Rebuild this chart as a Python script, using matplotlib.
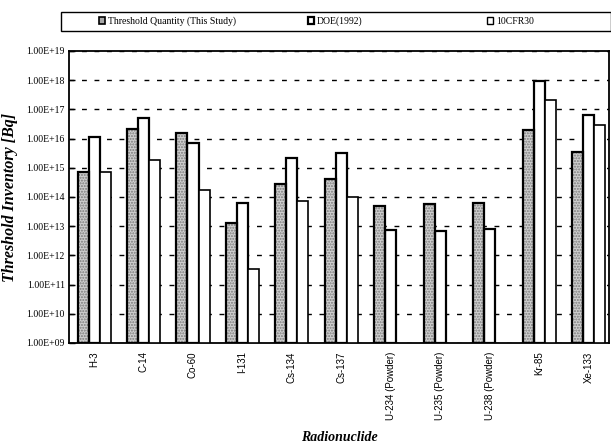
import matplotlib.pyplot as plt
import matplotlib.patches as mpatches
import numpy as np

nuclides = ["H-3", "C-14", "Co-60", "I-131", "Cs-134", "Cs-137",
            "U-234 (Powder)", "U-235 (Powder)", "U-238 (Powder)", "Kr-85", "Xe-133"]
threshold = [7e14, 2.2e16, 1.6e16, 1.3e13, 2.7e14, 4e14, 4.8e13, 5.6e13, 6e13, 1.9e16, 3.6e15]
doe = [1.1e16, 5e16, 6.8e15, 6e13, 2.1e15, 3.1e15, 7.4e12, 6.8e12, 8e12, 9.5e17, 6.6e16]
cfr = [7e14, 1.8e15, 1.8e14, 3.4e11, 7e13, 1e14, np.nan, np.nan, np.nan, 2.1e17, 3e16]
series_names = ["Threshold Quantity (This Study)", "DOE(1992)", "10CFR30"]
yticks = [10.0 ** p for p in range(9, 20)]

fig = plt.figure(figsize=(6.11, 4.47), dpi=100)
ax = fig.add_axes([0.113, 0.2327, 0.8837, 0.6533])

x = np.arange(len(nuclides))
w = 0.2225
base = 1e9

# gray stippled bars: fill with dots, then black outline on top
ax.bar(x - w, np.array(threshold) - base, w, bottom=base, color="#d0d0d0",
       hatch="......", edgecolor="#7a7a7a", linewidth=0, zorder=3)
ax.bar(x - w, np.array(threshold) - base, w, bottom=base, facecolor="none",
       edgecolor="black", linewidth=1.6, zorder=4)
ax.bar(x, np.array(doe) - base, w, bottom=base, color="white",
       edgecolor="black", linewidth=1.6, zorder=3)
ax.bar(x + w, np.array(cfr) - base, w, bottom=base, color="white",
       edgecolor="black", linewidth=1.2, zorder=3)

ax.set_yscale("log")
ax.set_ylim(1e9, 1e19)
ax.set_xlim(-0.506, 10.41)
ax.set_yticks(yticks)
ax.set_yticklabels(["1.00E+%02d" % p for p in range(9, 20)],
                   family="Liberation Serif", fontsize=7)
ax.minorticks_off()
ax.tick_params(axis="y", direction="in", length=4, width=1, pad=3)
ax.set_xticks(x)
ax.set_xticklabels(nuclides, rotation=90, family="Liberation Sans", fontsize=7)
ax.tick_params(axis="x", length=0, pad=6)
ax.yaxis.grid(True, color="black", linestyle=(0, (3.5, 5.5)), linewidth=1)
ax.set_axisbelow(True)
for s in ax.spines.values():
    s.set_linewidth(1.3)

ax.set_ylabel("Threshold Inventory [Bq]", family="Liberation Serif",
              fontsize=11.5, fontweight="bold", style="italic", labelpad=6)
ax.set_xlabel("Radionuclide", family="Liberation Serif", fontsize=10,
              fontweight="bold", style="italic")
ax.xaxis.label.set_va("center")
ax.xaxis.set_label_coords(0.5, -0.325)

# legend box across the top
fig.patches.append(mpatches.Rectangle((0.1, 0.9306), 0.9, 0.0425, transform=fig.transFigure,
                                      facecolor="white", edgecolor="black", linewidth=1))
handles = [
    mpatches.Patch(facecolor="#a8a8a8", edgecolor="black", linewidth=1.2),
    mpatches.Patch(facecolor="white", edgecolor="black", linewidth=1.6),
    mpatches.Patch(facecolor="white", edgecolor="black", linewidth=1.0),
]
for h, name, xpos in zip(handles, series_names, [0.162, 0.504, 0.797]):
    fig.legend([h], [name], loc="center left", bbox_to_anchor=(xpos, 0.952),
               frameon=False, handlelength=0.6, handleheight=0.6, handletextpad=0.3,
               borderpad=0, borderaxespad=0,
               prop={"family": "Liberation Serif", "size": 7})

fig.savefig("out.png", dpi=100)
